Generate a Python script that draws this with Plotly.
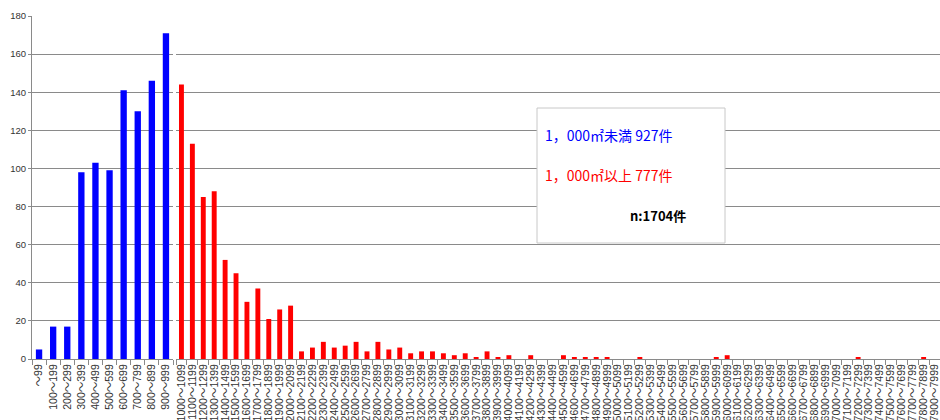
import plotly.graph_objects as go

# 面積区分ごとの件数（100㎡刻み）
small_labels = ["～99"] + [f"{a}～{a + 99}" for a in range(100, 1000, 100)]
small_counts = [5, 17, 17, 98, 103, 99, 141, 130, 146, 171]

large_labels = [f"{a}～{a + 99}" for a in range(1000, 8000, 100)]
large_counts = [
    144, 113, 85, 88, 52, 45, 30, 37, 21, 26,   # 1000-1999
    28, 4, 6, 9, 6, 7, 9, 4, 9, 5,              # 2000-2999
    6, 3, 4, 4, 3, 2, 3, 1, 4, 1,               # 3000-3999
    2, 0, 2, 0, 0, 2, 1, 1, 1, 1,               # 4000-4999
    0, 0, 1, 0, 0, 0, 0, 0, 0, 1,               # 5000-5999
    2, 0, 0, 0, 0, 0, 0, 0, 0, 0,               # 6000-6999
    0, 0, 1, 0, 0, 0, 0, 0, 1, 0,               # 7000-7999
]

y_ticks = list(range(0, 181, 20))

summary_lines = [
    ("1，000㎡未満 927件", "#0000ff"),
    ("1，000㎡以上 777件", "#ff0000"),
]
total_text = "n:1704件"

W, H = 940, 420
L, R, T, B = 32, 0, 16, 61
PW, PH = W - L - R, H - T - B


def px_x(x):
    return (x - L) / PW


def px_y(y):
    return (H - B - y) / PH


grid = "#8a8a8a"
x_font = dict(family="Liberation Sans, Noto Sans CJK JP", size=10.5, color="#333333")
y_font = dict(family="Liberation Sans, Noto Sans CJK JP", size=9.5, color="#333333")

fig = go.Figure()
fig.add_trace(go.Bar(x=small_labels, y=small_counts, marker_color="#0000ff",
                     marker_line_width=0, xaxis="x", yaxis="y"))
fig.add_trace(go.Bar(x=large_labels, y=large_counts, marker_color="#ff0000",
                     marker_line_width=0, xaxis="x2", yaxis="y2"))

axis_common = dict(
    type="category", tickangle=-90, tickfont=x_font, dtick=1,
    showline=True, linecolor=grid, linewidth=1,
    ticks="outside", tickson="boundaries", ticklen=5, tickcolor=grid,
    showgrid=False, fixedrange=True,
)
y_common = dict(
    range=[0, 180], tickvals=y_ticks, showgrid=True, gridcolor=grid, gridwidth=1.3,
    zeroline=False, fixedrange=True,
)

fig.update_layout(
    width=W, height=H,
    margin=dict(l=L, r=R, t=T, b=B, autoexpand=False),
    paper_bgcolor="white", plot_bgcolor="white",
    showlegend=False, bargap=0.55,
    xaxis=dict(domain=[0, px_x(173)], anchor="y", **axis_common),
    xaxis2=dict(domain=[px_x(176), 1], anchor="y2", **axis_common),
    yaxis=dict(anchor="x", showline=True, linecolor=grid, linewidth=1,
               ticks="outside", ticklen=3, tickcolor=grid,
               tickfont=y_font, **y_common),
    yaxis2=dict(anchor="x2", showticklabels=False, showline=False, **y_common),
)

# 件数サマリーの枠
fig.add_shape(type="rect", xref="paper", yref="paper",
              x0=px_x(537), x1=px_x(725), y0=px_y(243), y1=px_y(108),
              line=dict(color="#c8c8c8", width=1), fillcolor="white", layer="above")

for (text, color), yc in zip(summary_lines, [135, 175]):
    fig.add_annotation(text=text, xref="paper", yref="paper",
                       x=px_x(543), y=px_y(yc), xanchor="left", yanchor="middle",
                       showarrow=False,
                       font=dict(family="Noto Sans CJK JP", size=14, color=color))

fig.add_annotation(text=f"<b>{total_text}</b>", xref="paper", yref="paper",
                   x=px_x(628), y=px_y(216), xanchor="left", yanchor="middle",
                   showarrow=False,
                   font=dict(family="Noto Sans CJK JP", size=13, color="#000000"))

fig.write_html("out.html")
